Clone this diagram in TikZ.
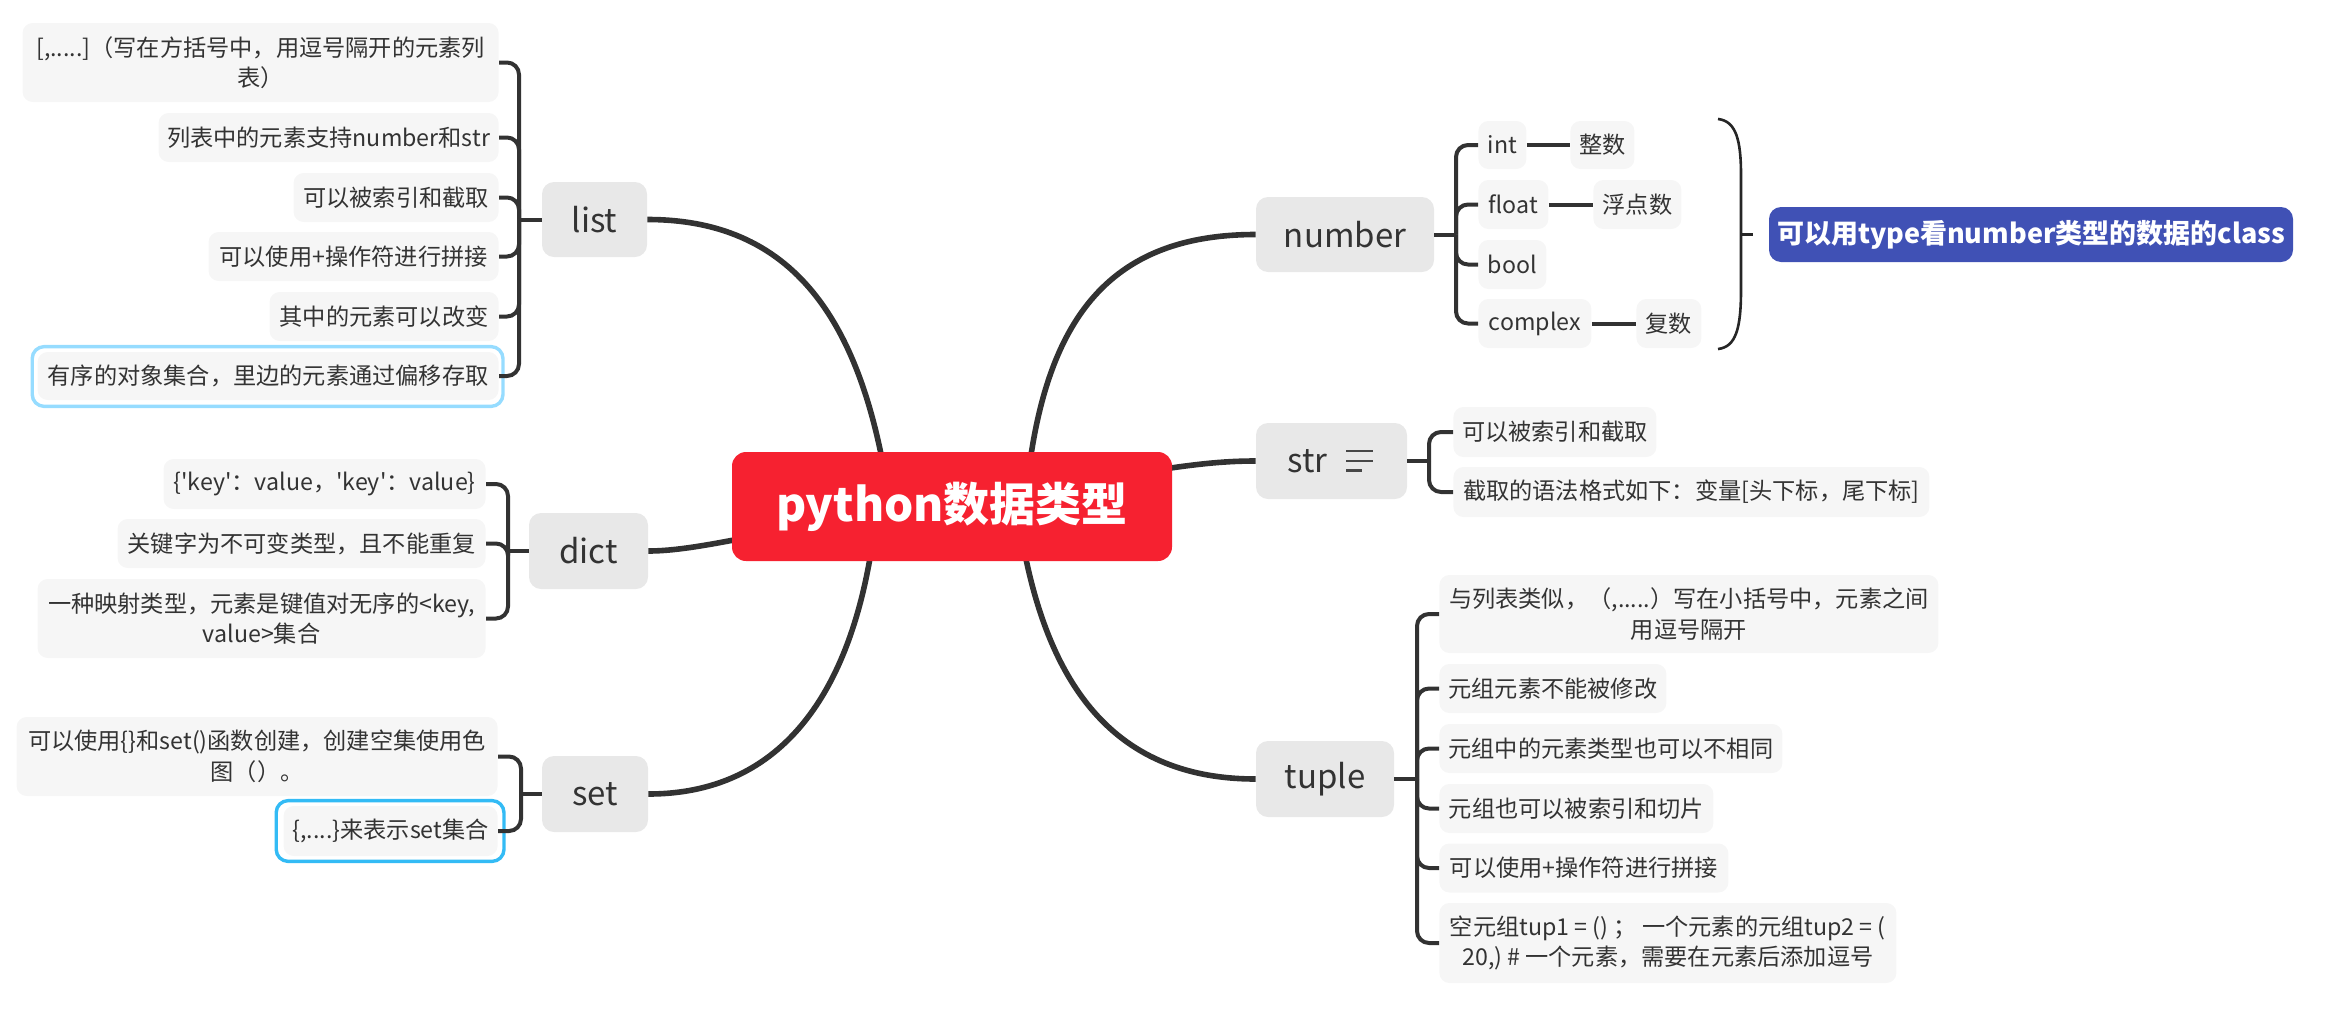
\documentclass[tikz,border=0pt]{standalone}
\usepackage{fontspec}
\setmainfont{Noto Sans CJK SC}[Ligatures=TeXOff]
\definecolor{rootred}{RGB}{246,33,48}
\definecolor{sumblue}{RGB}{64,81,181}
\definecolor{maingray}{RGB}{232,232,232}
\definecolor{subgray}{RGB}{246,246,246}
\definecolor{txt}{RGB}{51,51,51}
\definecolor{lncol}{RGB}{50,50,50}
\definecolor{selA}{RGB}{150,220,255}
\definecolor{selB}{RGB}{51,187,245}
\tikzset{
  sz/.style n args={2}{minimum width=#1*0.5pt,minimum height=#2*0.5pt},
  rootn/.style={fill=rootred,rounded corners=7pt,text=white,inner sep=0pt,
    font=\bfseries\fontsize{23}{26}\selectfont},
  sumn/.style={fill=sumblue,rounded corners=6pt,text=white,inner sep=0pt,
    font=\bfseries\fontsize{13.5}{16}\selectfont},
  mainn/.style={fill=maingray,rounded corners=6pt,text=txt,inner sep=0pt,
    font=\fontsize{16.5}{19}\selectfont},
  subn/.style={fill=subgray,rounded corners=5pt,text=txt,inner sep=0pt,align=center,
    font=\fontsize{11.6}{15.3}\selectfont},
  rootln/.style={draw=lncol,line width=2.8pt},
  brk/.style={draw=lncol,line width=2pt,rounded corners=6pt},
  stub/.style={draw=lncol,line width=2pt},
  sel/.style={line width=1.7pt,rounded corners=6pt},
}
\begin{document}
\begin{tikzpicture}[x=0.5pt,y=-0.5pt]
\useasboundingbox (0,0) rectangle (2331,1013);

% ---------- main nodes (positions) ----------
\node[mainn,sz={105}{75}] (list) at (594.5,219.5) {list};
\node[mainn,sz={119}{76}] (dict) at (588.5,551) {dict};
\node[mainn,sz={106}{76}] (set) at (595,794) {set};
\node[mainn,sz={178}{75}] (number) at (1345,234.5) {number};
\node[mainn,sz={151}{76}] (str) at (1331.5,461) {\hbox{str\kern24pt}};
\node[mainn,sz={138}{76}] (tuple) at (1325,779) {tuple};

% ---------- root connectors ----------
\draw[rootln] (list.east) .. controls (800,219.5) and (865,330) .. ([xshift=-31pt]952,506);
\draw[rootln] (number.west) .. controls (1100,234.5) and (1040,330) .. ([xshift=36.5pt]952,506);
\draw[rootln] (dict.east) .. controls (710,551) and (800,520) .. (952,506);
\draw[rootln] (str.west) .. controls (1200,461) and (1150,470) .. (952,506);
\draw[rootln] (set.east) .. controls (790,794) and (860,680) .. ([xshift=-37.5pt]952,506);
\draw[rootln] (tuple.west) .. controls (1110,779) and (1040,680) .. ([xshift=32.5pt]952,506);

\node[rootn,sz={440}{109}] (root) at (952,506.5) {python数据类型};

% ---------- list children ----------
\node[subn,anchor=east,sz={476}{79}] (l1) at (499,62.5) {[,.....]（写在方括号中，用逗号隔开的元素列\\表）};
\node[subn,anchor=east,sz={340}{49}] (l2) at (499,137.5) {列表中的元素支持number和str};
\node[subn,anchor=east,sz={205}{49}] (l3) at (499,197.5) {可以被索引和截取};
\node[subn,anchor=east,sz={290}{49}] (l4) at (499,256.5) {可以使用+操作符进行拼接};
\node[subn,anchor=east,sz={229}{49}] (l5) at (499,316.5) {其中的元素可以改变};
\node[subn,anchor=east,sz={461}{48}] (l6) at (499,376) {有序的对象集合，里边的元素通过偏移存取};
\draw[sel,draw=selA] ([xshift=-2.5pt,yshift=2.5pt]l6.north west) rectangle ([xshift=2pt,yshift=-3pt]l6.south east);
\coordinate (lj) at (519,219.5);
\foreach \c in {l1,l2,l3,l4,l5,l6} \draw[brk] (\c.east) -- (lj |- \c.east) -- (lj);
\draw[stub] (lj) -- (list.west);

% ---------- dict children ----------
\node[subn,anchor=east,sz={322}{50}] (d1) at (486,484) {\{'key'：value，'key'：value\}};
\node[subn,anchor=east,sz={368}{49}] (d2) at (486,543.5) {关键字为不可变类型，且不能重复};
\node[subn,anchor=east,sz={448}{79}] (d3) at (486,618.5) {一种映射类型，元素是键值对无序的<key,\\value>集合};
\coordinate (dj) at (508,551);
\foreach \c in {d1,d2,d3} \draw[brk] (\c.east) -- (dj |- \c.east) -- (dj);
\draw[stub] (dj) -- (dict.west);

% ---------- set children ----------
\node[subn,anchor=east,sz={481}{79}] (s1) at (498,756.5) {可以使用\{\}和set()函数创建，创建空集使用色\\图（）。};
\node[subn,anchor=east,sz={214}{50}] (s2) at (498,831) {\{,....\}来表示set集合};
\draw[sel,draw=selB] ([xshift=-3.5pt,yshift=2.5pt]s2.north west) rectangle ([xshift=3pt,yshift=-2.5pt]s2.south east);
\coordinate (sj) at (521,794);
\foreach \c in {s1,s2} \draw[brk] (\c.east) -- (sj |- \c.east) -- (sj);
\draw[stub] (sj) -- (set.west);

% ---------- number children ----------
\node[subn,anchor=west,sz={48}{48}] (n1) at (1478,145) {int};
\node[subn,anchor=west,sz={64}{48}] (n1b) at (1570,145) {整数};
\node[subn,anchor=west,sz={70}{49}] (n2) at (1478,204.5) {float};
\node[subn,anchor=west,sz={88}{49}] (n2b) at (1593,204.5) {浮点数};
\node[subn,anchor=west,sz={68}{49}] (n3) at (1478,264.5) {bool};
\node[subn,anchor=west,sz={113}{49}] (n4) at (1478,323.5) {complex};
\node[subn,anchor=west,sz={65}{49}] (n4b) at (1636,323.5) {复数};
\coordinate (nj) at (1456,234.5);
\foreach \c in {n1,n2,n3,n4} \draw[brk] (\c.west) -- (nj |- \c.west) -- (nj);
\draw[stub] (nj) -- (number.east);
\draw[stub] (n1.east) -- (n1b.west);
\draw[stub] (n2.east) -- (n2b.west);
\draw[stub] (n4.east) -- (n4b.west);

% summary
\node[sumn,sz={524}{55}] (sum) at (2031,234.5) {可以用type看number类型的数据的class};
\coordinate (bt) at (1718,119);
\coordinate (bb) at (1718,349);
\draw[draw=black!85,line width=1.3pt] (bt) .. controls (1736,121) and (1741,140) .. (1741,175)
  -- (1741,290) .. controls (1741,328) and (1736,347) .. (bb);
\draw[draw=black!85,line width=1.3pt] (1741,234.5) -- (1753,234.5);

% ---------- str children ----------
\node[subn,anchor=west,sz={203}{50}] (t1) at (1453,432) {可以被索引和截取};
\node[subn,anchor=west,sz={476}{50}] (t2) at (1453,492) {截取的语法格式如下：变量[头下标，尾下标]};
\coordinate (tj) at (1429,461);
\foreach \c in {t1,t2} \draw[brk] (\c.west) -- (tj |- \c.west) -- (tj);
\draw[stub] (tj) -- (str.east);
% notes icon
\draw[draw=txt!90,line width=1.1pt] (1346,451) -- (1373,451) (1346,461) -- (1373,461) (1346,470.5) -- (1362,470.5);

% ---------- tuple children ----------
\node[subn,anchor=west,sz={499}{78}] (u1) at (1439,614) {与列表类似，（,.....）写在小括号中，元素之间\\用逗号隔开};
\node[subn,anchor=west,sz={227}{49}] (u2) at (1439,688.5) {元组元素不能被修改};
\node[subn,anchor=west,sz={343}{49}] (u3) at (1439,748.5) {元组中的元素类型也可以不相同};
\node[subn,anchor=west,sz={274}{49}] (u4) at (1439,808.5) {元组也可以被索引和切片};
\node[subn,anchor=west,sz={289}{49}] (u5) at (1439,868) {可以使用+操作符进行拼接};
\node[subn,anchor=west,sz={457}{80}] (u6) at (1439,943) {空元组tup1 = () ； 一个元素的元组tup2 = (\\20,) \# 一个元素，需要在元素后添加逗号};
\coordinate (uj) at (1417,779);
\foreach \c in {u1,u2,u3,u4,u5,u6} \draw[brk] (\c.west) -- (uj |- \c.west) -- (uj);
\draw[stub] (uj) -- (tuple.east);
\end{tikzpicture}
\end{document}
